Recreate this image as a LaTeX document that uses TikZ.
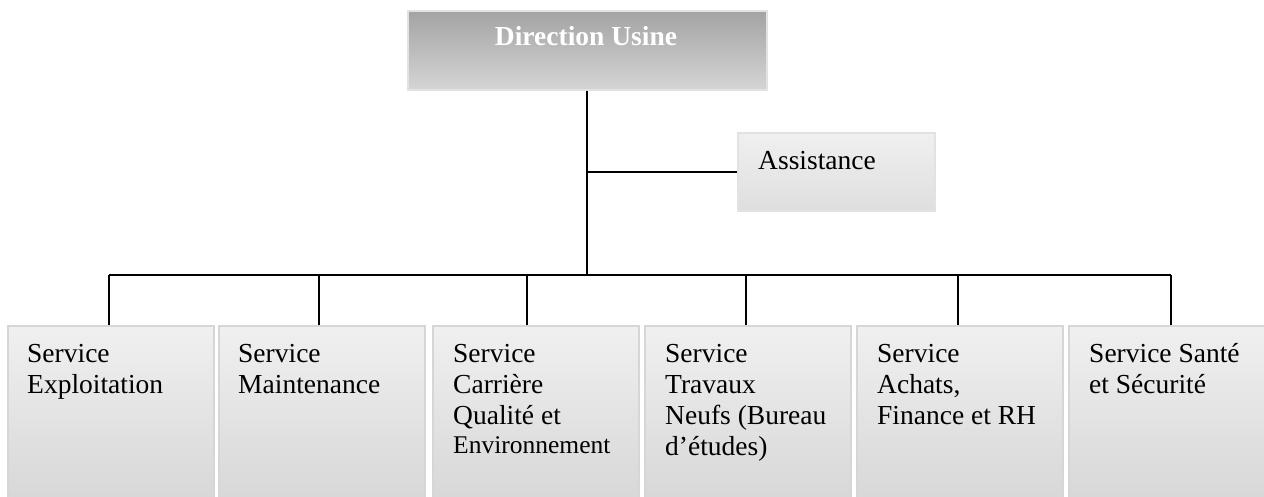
\documentclass[tikz,border=0pt]{standalone}
\usepackage{fontspec}
\setmainfont{Liberation Serif}
\definecolor{boxtop}{HTML}{F0F0F0}
\definecolor{boxbot}{HTML}{D7D7D7}
\definecolor{boxline}{HTML}{D6D6D6}
\definecolor{dirtop}{HTML}{A3A3A3}
\definecolor{dirbot}{HTML}{D5D5D5}
\definecolor{dirline}{HTML}{E2E2E2}
\tikzset{
  svcbox/.style={rectangle, anchor=north west, draw=boxline, line width=1.5pt,
    top color=boxtop, bottom color=boxbot, minimum width=206pt, minimum height=176pt, inner sep=0pt},
  dirbox/.style={rectangle, anchor=north west, draw=dirline, line width=1.5pt,
    top color=dirtop, bottom color=dirbot, minimum width=359pt, minimum height=79pt, inner sep=0pt},
  asbox/.style={rectangle, anchor=north west, draw=boxline!70, line width=1.5pt,
    top color=boxtop, bottom color=boxbot!70!boxtop, minimum width=197pt, minimum height=78pt, inner sep=0pt},
  lbl/.style={anchor=base west, align=left, inner sep=0pt, font=\fontsize{27.5}{31}\selectfont},
  conn/.style={draw=black, line width=1.6pt},
}
\begin{document}
\begin{tikzpicture}[x=1pt,y=-1pt]
\useasboundingbox (0,0) rectangle (1264,496);

% top box
\node[dirbox] (dir) at (407,10) {};
\node[anchor=base, inner sep=0pt, text=white, font=\fontsize{27.5}{31}\selectfont\bfseries] (dirt) at (586,45) {Direction Usine};

% assistance
\node[asbox] (asst) at (737,132) {};
\node[lbl] (asstt) at (758,169) {Assistance};

% service boxes
\node[svcbox] (b1) at (7,325) {};
\node[svcbox] (b2) at (218,325) {};
\node[svcbox] (b3) at (432,325) {};
\node[svcbox] (b4) at (644,325) {};
\node[svcbox] (b5) at (856,325) {};
\node[svcbox] (b6) at (1068,325) {};

% labels (anchored at the baseline of their last line)
\node[lbl] (t1) at (27,393) {Service\\Exploitation};
\node[lbl] (t2) at (238,393) {Service\\Maintenance};
\node[lbl] (t3) at (453,453) {Service\\Carrière\\Qualité et\\[-2pt]{\fontsize{25.5}{29}\selectfont Environnement}};
\node[lbl] (t4) at (665,455) {Service\\Travaux\\Neufs (Bureau\\d’études)};
\node[lbl] (t5) at (877,424) {Service\\Achats,\\Finance et RH};
\node[lbl] (t6) at (1089,393) {Service Santé\\et Sécurité};

% connectors
\coordinate (busL) at (109,275);
\coordinate (busR) at (1171,275);
\draw[conn] (busL) -- (busR);
\draw[conn] (dir.south) -- (dir.south |- busL);
\draw[conn] (dir.south |- asst.west) -- (asst.west);
\coordinate (d1) at (109,275);
\coordinate (d2) at (319,275);
\coordinate (d3) at (527,275);
\coordinate (d4) at (746,275);
\coordinate (d5) at (958,275);
\coordinate (d6) at (1171,275);
\draw[conn] (d1) -- (d1 |- b1.north);
\draw[conn] (d2) -- (d2 |- b2.north);
\draw[conn] (d3) -- (d3 |- b3.north);
\draw[conn] (d4) -- (d4 |- b4.north);
\draw[conn] (d5) -- (d5 |- b5.north);
\draw[conn] (d6) -- (d6 |- b6.north);
\end{tikzpicture}
\end{document}
